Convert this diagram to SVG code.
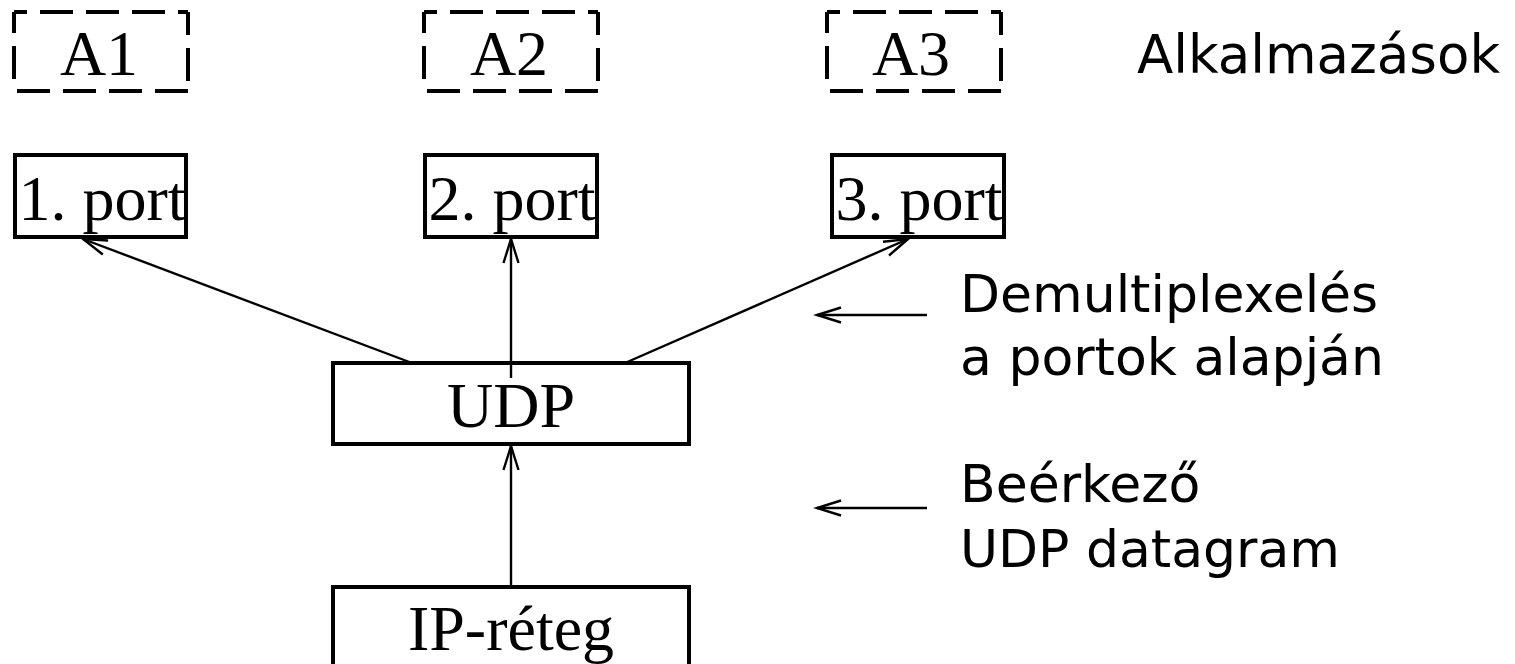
<svg xmlns="http://www.w3.org/2000/svg" xmlns:xlink="http://www.w3.org/1999/xlink" width="1515" height="664" viewBox="0 0 1515 664">
<style>
.box{fill:none;stroke:#000;stroke-width:4}
.dash{fill:none;stroke:#000;stroke-width:4;stroke-dasharray:33 13}
.conn{fill:none;stroke:#000;stroke-width:2.4}
.serif{font-family:"Liberation Serif","Times New Roman",serif;font-size:64px;fill:#000;text-anchor:middle}
.sans{font-family:"DejaVu Sans",Verdana,sans-serif;font-size:52px;fill:#000}
</style>
<defs>
<marker id="arr" markerUnits="userSpaceOnUse" viewBox="-26 -10 30 20" refX="0" refY="0" markerWidth="30" markerHeight="20" orient="auto">
<path d="M-24,-7.5 L0,0 L-24,7.5" fill="none" stroke="#000" stroke-width="2.4"/>
</marker>
<g id="dbox">
<line class="dash" x1="0" y1="0" x2="174" y2="0" stroke-dashoffset="20"/>
<line class="dash" x1="174" y1="0" x2="174" y2="79" stroke-dashoffset="10"/>
<line class="dash" x1="174" y1="79" x2="0" y2="79" stroke-dashoffset="0"/>
<line class="dash" x1="0" y1="0" x2="0" y2="79" stroke-dashoffset="12"/>
</g>
</defs>
<rect width="1515" height="664" fill="#fff"/>
<g id="A1"><use xlink:href="#dbox" x="14" y="12"/><text class="serif" x="99" y="75">A1</text></g>
<g id="A2"><use xlink:href="#dbox" x="424" y="12"/><text class="serif" x="509" y="75">A2</text></g>
<g id="A3"><use xlink:href="#dbox" x="827" y="12"/><text class="serif" x="911" y="75">A3</text></g>
<g id="label-alk"><text class="sans" x="1137" y="73" style="font-size:53px">Alkalmazások</text></g>
<g id="port1"><rect class="box" x="15" y="155" width="171" height="82"/><text class="serif" x="102" y="220">1. port</text></g>
<g id="port2"><rect class="box" x="425" y="155" width="172" height="82"/><text class="serif" x="512" y="220">2. port</text></g>
<g id="port3"><rect class="box" x="832" y="155" width="172" height="82"/><text class="serif" x="919" y="220">3. port</text></g>
<g id="udp"><rect class="box" x="333" y="363" width="356" height="81"/><text class="serif" x="511" y="427">UDP</text></g>
<g id="ip"><rect class="box" x="333" y="587" width="356" height="100"/><text class="serif" x="511" y="650">IP-réteg</text></g>
<g id="label-demux"><text class="sans" x="960" y="312">Demultiplexelés</text><text class="sans" x="960" y="375">a portok alapján</text></g>
<g id="label-in"><text class="sans" x="960" y="502">Beérkező</text><text class="sans" x="960" y="567">UDP datagram</text></g>
<g id="connectors">
<line class="conn" x1="412" y1="363" x2="83" y2="239" marker-end="url(#arr)"/>
<line class="conn" x1="511" y1="378" x2="511" y2="239" marker-end="url(#arr)"/>
<line class="conn" x1="625" y1="363" x2="908" y2="239" marker-end="url(#arr)"/>
<line class="conn" x1="511" y1="587" x2="511" y2="446" marker-end="url(#arr)"/>
<line class="conn" x1="927" y1="315" x2="817" y2="315" marker-end="url(#arr)"/>
<line class="conn" x1="927" y1="508" x2="817" y2="508" marker-end="url(#arr)"/>
</g>
</svg>
